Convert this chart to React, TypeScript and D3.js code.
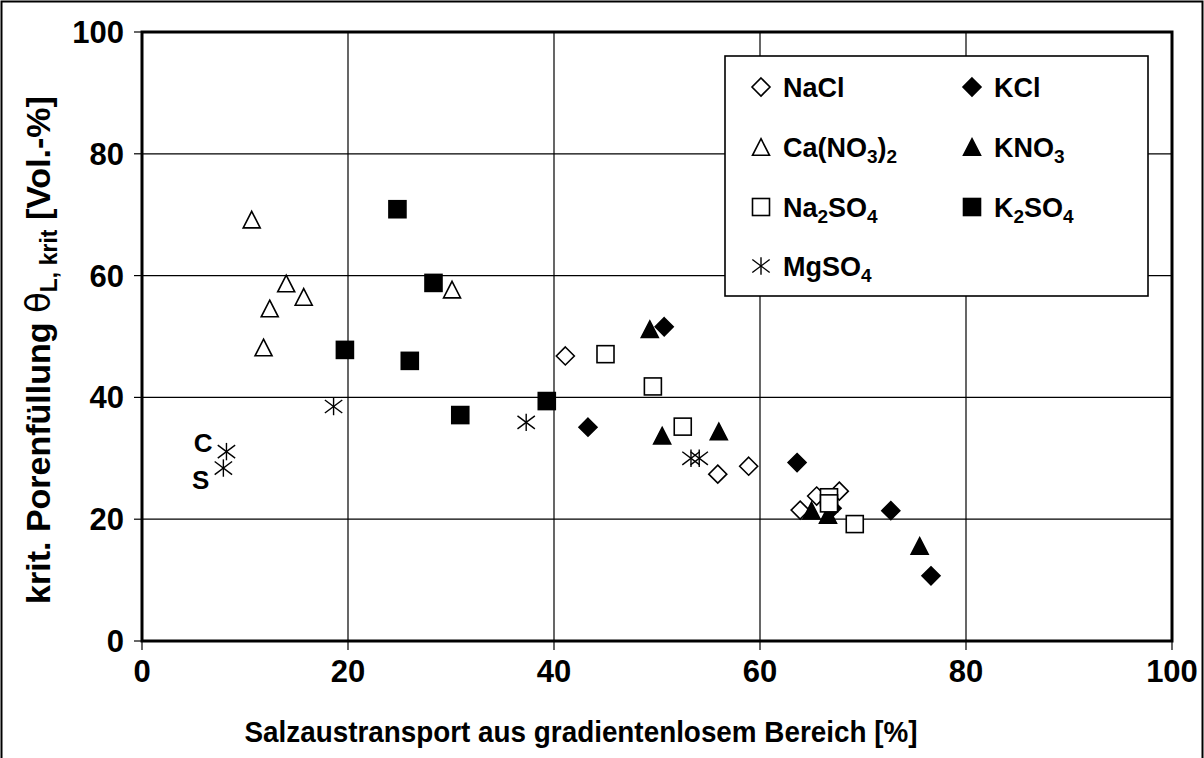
import React from "react";
import * as d3 from "d3";

const xTicks = [0, 20, 40, 60, 80, 100];
const yTicks = [0, 20, 40, 60, 80, 100];

const nacl = [[41.1, 46.8], [55.9, 27.4], [58.9, 28.7], [63.9, 21.5], [65.5, 23.8], [67.7, 24.6]];
const kcl = [[50.7, 51.6], [43.3, 35.1], [63.6, 29.3], [67.0, 21.8], [72.7, 21.4], [76.6, 10.7]];
const cano3 = [[10.65, 69.2], [14.0, 58.7], [15.7, 56.5], [12.4, 54.6], [11.8, 48.2], [30.1, 57.7]];
const kno3 = [[49.3, 51.2], [50.5, 33.7], [56.0, 34.4], [65.0, 21.4], [66.6, 20.7], [75.5, 15.6]];
const na2so4 = [[45.0, 47.1], [49.6, 41.8], [52.5, 35.2], [66.7, 23.6], [66.7, 22.6], [69.2, 19.2]];
const k2so4 = [[24.8, 70.9], [28.3, 58.8], [19.7, 47.8], [26.0, 46.0], [30.9, 37.1], [39.3, 39.4]];
const mgso4 = [[18.6, 38.5], [37.3, 35.9], [53.3, 30.0], [54.1, 30.0], [8.2, 31.1], [7.9, 28.4]];

const pointLabels = [
  { text: "C", x: 8.2, y: 31.1, dy: -9 },
  { text: "S", x: 7.9, y: 28.4, dy: 12 },
];

type Shape = "diamond" | "triangle" | "square" | "star";
const series: { name: string; data: number[][]; shape: Shape; filled: boolean }[] = [
  { name: "NaCl", data: nacl, shape: "diamond", filled: false },
  { name: "KCl", data: kcl, shape: "diamond", filled: true },
  { name: "Ca(NO3)2", data: cano3, shape: "triangle", filled: false },
  { name: "KNO3", data: kno3, shape: "triangle", filled: true },
  { name: "Na2SO4", data: na2so4, shape: "square", filled: false },
  { name: "K2SO4", data: k2so4, shape: "square", filled: true },
  { name: "MgSO4", data: mgso4, shape: "star", filled: false },
];

const FONT = "'Liberation Sans', Arial, Helvetica, sans-serif";

const M = { left: 142, right: 1172, top: 32, bottom: 641 };
const x = d3.scaleLinear().domain([0, 100]).range([M.left, M.right]);
const y = d3.scaleLinear().domain([0, 100]).range([M.bottom, M.top]);

function Marker({ shape, filled, cx, cy }: { shape: Shape; filled: boolean; cx: number; cy: number }) {
  const fill = filled ? "#000" : "#fff";
  const sw = 1.6;
  if (shape === "diamond") {
    const r = 9;
    return <path d={`M${cx},${cy - r}L${cx + r},${cy}L${cx},${cy + r}L${cx - r},${cy}Z`} fill={fill} stroke="#000" strokeWidth={sw} />;
  }
  if (shape === "triangle") {
    const w = 8.5, h = 8.3;
    return <path d={`M${cx},${cy - h}L${cx + w},${cy + h}L${cx - w},${cy + h}Z`} fill={fill} stroke="#000" strokeWidth={sw} />;
  }
  if (shape === "square") {
    const r = 8.5;
    return <rect x={cx - r} y={cy - r} width={2 * r} height={2 * r} fill={fill} stroke="#000" strokeWidth={sw} />;
  }
  const r = 8.7;
  return (
    <g stroke="#000" strokeWidth={1.4}>
      <line x1={cx} y1={cy - r} x2={cx} y2={cy + r} />
      <line x1={cx - r} y1={cy - r * 0.75} x2={cx + r} y2={cy + r * 0.75} />
      <line x1={cx - r} y1={cy + r * 0.75} x2={cx + r} y2={cy - r * 0.75} />
    </g>
  );
}

function LegendLabel({ name, lx, ly }: { name: string; lx: number; ly: number }) {
  const parts: { t: string; sub: boolean }[] = [];
  const re = /(\d)/g;
  let last = 0;
  let m;
  while ((m = re.exec(name))) {
    if (m.index > last) parts.push({ t: name.slice(last, m.index), sub: false });
    parts.push({ t: m[1], sub: true });
    last = m.index + 1;
  }
  if (last < name.length) parts.push({ t: name.slice(last), sub: false });
  return (
    <text x={lx} y={ly} fontFamily={FONT} fontWeight="bold" fontSize={27} fill="#000">
      {parts.map((p, i) =>
        p.sub ? (
          <tspan key={i} fontSize={19} dy={6}>{p.t}</tspan>
        ) : (
          <tspan key={i} dy={i > 0 && parts[i - 1].sub ? -6 : 0}>{p.t}</tspan>
        )
      )}
    </text>
  );
}

export default function App() {
  const legendCols = [761, 972];
  const legendTextOff = 22;
  const legendRows = [87, 147, 207, 266];
  return (
    <svg width={1204} height={758} style={{ position: "absolute", left: 0, top: 0, background: "#fff" }}>
      <rect x={0} y={0} width={1204} height={758} fill="#fff" />
      <rect x={1.5} y={1.5} width={1201} height={800} fill="none" stroke="#000" strokeWidth={2} />
      {xTicks.slice(1, -1).map((t) => (
        <line key={"gx" + t} x1={x(t)} x2={x(t)} y1={M.top} y2={M.bottom} stroke="#000" strokeWidth={1.2} />
      ))}
      {yTicks.slice(1, -1).map((t) => (
        <line key={"gy" + t} x1={M.left} x2={M.right} y1={y(t)} y2={y(t)} stroke="#000" strokeWidth={1.2} />
      ))}
      {yTicks.map((t) => (
        <line key={"ty" + t} x1={M.left - 8} x2={M.left} y1={y(t)} y2={y(t)} stroke="#000" strokeWidth={1.2} />
      ))}
      {xTicks.map((t) => (
        <line key={"tx" + t} x1={x(t)} x2={x(t)} y1={M.bottom} y2={M.bottom + 9} stroke="#000" strokeWidth={1.2} />
      ))}
      <rect x={M.left} y={M.top} width={M.right - M.left} height={M.bottom - M.top} fill="none" stroke="#000" strokeWidth={3} />
      {yTicks.map((t) => (
        <text key={"ly" + t} x={124} y={y(t) + 11} textAnchor="end" fontFamily={FONT} fontWeight="bold" fontSize={31}>{t}</text>
      ))}
      {xTicks.map((t) => (
        <text key={"lx" + t} x={x(t)} y={682} textAnchor="middle" fontFamily={FONT} fontWeight="bold" fontSize={31}>{t}</text>
      ))}
      <text x={581} y={742} textAnchor="middle" fontFamily={FONT} fontWeight="bold" fontSize={29} textLength={673} lengthAdjust="spacingAndGlyphs">
        Salzaustransport aus gradientenlosem Bereich [%]
      </text>
      <text transform={`translate(50, 350) rotate(-90)`} textAnchor="middle" fontFamily={FONT} fontWeight="bold" fontSize={34}>
        krit. Porenfüllung <tspan fontWeight="normal" fontFamily="'DejaVu Sans', sans-serif">θ</tspan>
        <tspan fontSize={23} dy={7}>L, krit</tspan>
        <tspan dy={-7}> [Vol.-%]</tspan>
      </text>
      {series.map((s) => (
        <g key={s.name}>
          {s.data.map((d, i) => (
            <Marker key={i} shape={s.shape} filled={s.filled} cx={x(d[0])} cy={y(d[1])} />
          ))}
        </g>
      ))}
      {pointLabels.map((p) => (
        <text key={p.text} x={x(p.x) - 14} y={y(p.y) + p.dy + 9} textAnchor="end" fontFamily={FONT} fontWeight="bold" fontSize={26}>{p.text}</text>
      ))}
      <rect x={725} y={56} width={423} height={240} fill="#fff" stroke="#000" strokeWidth={1.6} />
      {series.map((s, i) => {
        const col = i % 2;
        const row = Math.floor(i / 2);
        const cx = legendCols[col];
        const cy = legendRows[row];
        return (
          <g key={"lg" + s.name}>
            <Marker shape={s.shape} filled={s.filled} cx={cx} cy={cy} />
            <LegendLabel name={s.name} lx={cx + legendTextOff} ly={cy + 10} />
          </g>
        );
      })}
    </svg>
  );
}
